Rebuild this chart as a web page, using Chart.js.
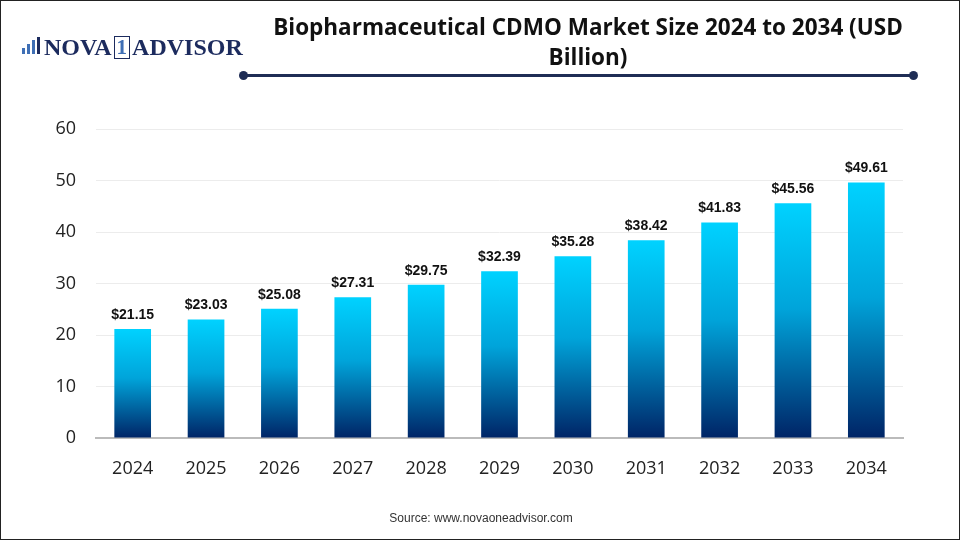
<!DOCTYPE html>
<html>
<head>
<meta charset="utf-8">
<script src="https://cdn.jsdelivr.net/npm/chart.js@4"></script>
<style>
  html, body { margin: 0; padding: 0; background: #fff; }
  #frame { position: relative; width: 960px; height: 540px; box-sizing: border-box; border: 1px solid #222; overflow: hidden; }
  #chart { position: absolute; left: 0; top: 0; }
  #logo { position: absolute; left: 17px; top: 33px; height: 26px; display: flex; align-items: center; font-family: "Liberation Serif", "DejaVu Serif", serif; font-weight: bold; font-size: 24px; color: #1c2b5e; }
  #logo .icon { position: relative; width: 25px; height: 20px; margin-right: 1px; }
  #logo .icon span { position: absolute; bottom: 3px; width: 3px; background: #3f6fb5; }
  #logo .one { display: inline-block; border: 1.5px solid #1c2b5e; color: #3f6fb5; padding: 0 2px; line-height: 21px; margin: 0 2px; font-size: 21px; }
  #title { position: absolute; left: 237px; width: 700px; top: 11px; text-align: center; font-family: "Open Sans", "Liberation Sans", sans-serif; font-weight: bold; font-size: 22.5px; line-height: 30px; color: #111; }
  #rule { position: absolute; left: 242px; top: 73px; width: 671px; height: 3px; background: #1f2d55; }
  #rule::before, #rule::after { content: ""; position: absolute; top: -3px; width: 9px; height: 9px; border-radius: 50%; background: #1f2d55; }
  #rule::before { left: -4px; }
  #rule::after { right: -4px; }
  #source { position: absolute; left: 0; width: 960px; top: 510px; text-align: center; font-family: "Liberation Sans", Arial, sans-serif; font-size: 12px; color: #333; }
</style>
</head>
<body>
<div id="frame">
  <canvas id="chart" width="960" height="540"></canvas>
  <div id="logo">
    <div class="icon">
      <span style="left:4px;height:6px"></span>
      <span style="left:9px;height:10px"></span>
      <span style="left:14px;height:14px"></span>
      <span style="left:19px;height:17px;background:#1c2b5e"></span>
    </div>NOVA<span class="one">1</span>ADVISOR
  </div>
  <div id="title">Biopharmaceutical CDMO Market Size 2024 to 2034 (USD<br>Billion)</div>
  <div id="rule"></div>
  <div id="source">Source: www.novaoneadvisor.com</div>
</div>
<script>
const years = ['2024', '2025', '2026', '2027', '2028', '2029', '2030', '2031', '2032', '2033', '2034'];
const marketSize = [21.15, 23.03, 25.08, 27.31, 29.75, 32.39, 35.28, 38.42, 41.83, 45.56, 49.61];
const yTicks = [0, 10, 20, 30, 40, 50, 60];

const tickFont = { family: '"Open Sans", "Liberation Sans", sans-serif', size: 18 };

function barGradient(ctx) {
  const chart = ctx.chart;
  const y = chart.scales.y;
  if (!y || !chart.chartArea) return '#00c8f8';
  const top = y.getPixelForValue(ctx.raw);
  const base = y.getPixelForValue(0);
  const g = chart.ctx.createLinearGradient(0, top, 0, base);
  g.addColorStop(0, '#00d2ff');
  g.addColorStop(0.45, '#00a4da');
  g.addColorStop(1, '#002466');
  return g;
}

const valueLabels = {
  id: 'valueLabels',
  afterDatasetsDraw(chart) {
    const c = chart.ctx;
    const meta = chart.getDatasetMeta(0);
    c.save();
    c.font = 'bold 14px "Liberation Sans", Arial, sans-serif';
    c.fillStyle = '#111';
    c.textAlign = 'center';
    c.textBaseline = 'bottom';
    meta.data.forEach((bar, i) => {
      c.fillText('$' + marketSize[i].toFixed(2), bar.x, bar.y - 7);
    });
    c.restore();
  }
};

new Chart(document.getElementById('chart').getContext('2d'), {
  type: 'bar',
  data: {
    labels: years,
    datasets: [{
      data: marketSize,
      backgroundColor: barGradient,
      categoryPercentage: 1,
      barPercentage: 0.5
    }]
  },
  options: {
    responsive: false,
    animation: false,
    layout: { padding: { left: 0, right: 58, top: 128, bottom: 0 } },
    plugins: { legend: { display: false }, tooltip: { enabled: false } },
    scales: {
      x: {
        grid: { display: false },
        border: { color: '#bbb', width: 2 },
        ticks: { color: '#222', font: tickFont, padding: 12 },
        afterFit(scale) { scale.height = 103; }
      },
      y: {
        min: 0,
        max: 60,
        afterBuildTicks(scale) { scale.ticks = yTicks.map(v => ({ value: v })); },
        grid: { color: '#ececec', drawTicks: false },
        border: { display: false },
        ticks: { color: '#222', font: tickFont, padding: 20 },
        afterFit(scale) { scale.width = 95; }
      }
    }
  },
  plugins: [valueLabels]
});
</script>
</body>
</html>
